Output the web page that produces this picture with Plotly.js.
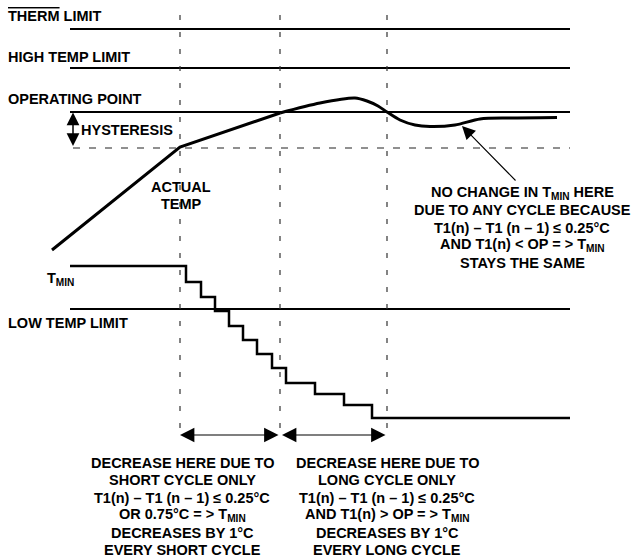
<!DOCTYPE html>
<html>
<head>
<meta charset="utf-8">
<script src="https://cdn.plot.ly/plotly-3.0.1.min.js"></script>
<style>html,body{margin:0;padding:0;background:#fff;}#chart{width:631px;height:559px;}</style>
</head>
<body>
<div id="chart"></div>
<script>
// ---- data (diagram units: x to the right, y downward) ----
const limitLabels = ['<span style="text-decoration:overline">THERM</span> LIMIT', 'HIGH TEMP LIMIT', 'OPERATING POINT', 'LOW TEMP LIMIT'];
const limitLevels = [29, 68, 112, 309];
const limitLabelY = [16, 57, 99, 323];
const hysteresisLevel = 148;
const cycleMarks = [180, 280, 387];

const actualX = [52, 180, 280, 320, 355, 367, 378, 387, 400, 415, 430, 455, 480, 510, 557];
const actualY = [250, 147, 113, 103, 98, 101, 106, 112, 120, 125, 126.5, 125, 119, 118, 117.5];

const tminX = [70, 186, 201, 215, 229, 243, 257, 272, 286, 315, 344, 372, 570];
const tminY = [266, 282, 297, 311, 326, 340, 354, 368, 383, 394, 405, 418, 418];

const noChangeLines = ['NO CHANGE IN T<sub>MIN</sub> HERE', 'DUE TO ANY CYCLE BECAUSE', 'T1(n) – T1 (n – 1) ≤ 0.25°C', 'AND T1(n) < OP = > T<sub>MIN</sub>', 'STAYS THE SAME'];
const shortCycleLines = ['DECREASE HERE DUE TO', 'SHORT CYCLE ONLY', 'T1(n) – T1 (n – 1) ≤ 0.25°C', 'OR 0.75°C = > T<sub>MIN</sub>', 'DECREASES BY 1°C', 'EVERY SHORT CYCLE'];
const longCycleLines = ['DECREASE HERE DUE TO', 'LONG CYCLE ONLY', 'T1(n) – T1 (n – 1) ≤ 0.25°C', 'AND T1(n) > OP = > T<sub>MIN</sub>', 'DECREASES BY 1°C', 'EVERY LONG CYCLE'];

// ---- layout constants ----
const X0 = 70, X1 = 570;
const FONT = {family: 'Liberation Sans, Arial, sans-serif', size: 14.5, color: '#000', weight: 'bold'};
const BLACK = '#000';

const traces = [];

// solid limit lines
{
  const xs = [], ys = [];
  limitLevels.forEach(v => { xs.push(X0, X1, null); ys.push(v, v, null); });
  traces.push({x: xs, y: ys, mode: 'lines', line: {color: BLACK, width: 2.2}, hoverinfo: 'skip'});
}
// hysteresis dashed line
traces.push({x: [73, X1], y: [hysteresisLevel, hysteresisLevel], mode: 'lines',
  line: {color: '#222', width: 1.2, dash: '7px,9px'}, hoverinfo: 'skip'});
// vertical cycle markers
{
  const xs = [], ys = [];
  cycleMarks.forEach(v => { xs.push(v, v, null); ys.push(15, 440, null); });
  traces.push({x: xs, y: ys, mode: 'lines', line: {color: '#333', width: 1.2, dash: '5px,12px'}, hoverinfo: 'skip'});
}
// actual temperature: straight ramp then smooth curve
traces.push({x: actualX.slice(0, 3), y: actualY.slice(0, 3), mode: 'lines',
  line: {color: BLACK, width: 3}, hoverinfo: 'skip'});
traces.push({x: actualX.slice(2), y: actualY.slice(2), mode: 'lines',
  line: {color: BLACK, width: 3, shape: 'spline', smoothing: 0.8}, hoverinfo: 'skip'});
// T_MIN staircase
traces.push({x: tminX, y: tminY, mode: 'lines', line: {color: BLACK, width: 2.5, shape: 'hv'}, hoverinfo: 'skip'});

const ann = [];
function label(text, x, y, xanchor) {
  ann.push({text: text, x: x, y: y, xref: 'x', yref: 'y', xanchor: xanchor || 'left', yanchor: 'middle',
    showarrow: false, font: FONT, align: 'center'});
}
limitLabels.forEach((t, i) => label(t, 6, limitLabelY[i]));
label('HYSTERESIS', 79, 130);
label('T<sub>MIN</sub>', 45, 279);
label('ACTUAL', 181, 187, 'center');
label('TEMP', 181, 204, 'center');
noChangeLines.forEach((t, i) => label(t, 522, 193 + i * 17.4, 'center'));
shortCycleLines.forEach((t, i) => label(t, 182, 463 + i * 17.4, 'center'));
longCycleLines.forEach((t, i) => label(t, 387, 463 + i * 17.4, 'center'));

function arrow(x, y, ax, ay, side, size, width) {
  ann.push({text: '', x: x, y: y, ax: ax, ay: ay, xref: 'x', yref: 'y', axref: 'x', ayref: 'y',
    showarrow: true, arrowhead: 2, startarrowhead: 2, arrowside: side, arrowsize: size, startarrowsize: size,
    arrowwidth: width, arrowcolor: BLACK, standoff: 0, startstandoff: 0});
}
arrow(73, 112.5, 73, 147.5, 'end+start', 1.7, 1.5);
arrow(180, 435, 280, 435, 'end+start', 2.4, 1.2);
arrow(282, 435, 387, 435, 'end+start', 2.4, 1.2);
arrow(462, 126, 517, 182, 'end', 2.4, 1.1);

const layout = {
  width: 631, height: 559,
  margin: {l: 0, r: 0, t: 0, b: 0},
  paper_bgcolor: '#fff', plot_bgcolor: '#fff',
  showlegend: false,
  xaxis: {range: [0, 631], visible: false, fixedrange: true},
  yaxis: {range: [559, 0], visible: false, fixedrange: true},
  annotations: ann,
  font: FONT
};
Plotly.newPlot('chart', traces, layout, {staticPlot: true, displayModeBar: false});
</script>
</body>
</html>
